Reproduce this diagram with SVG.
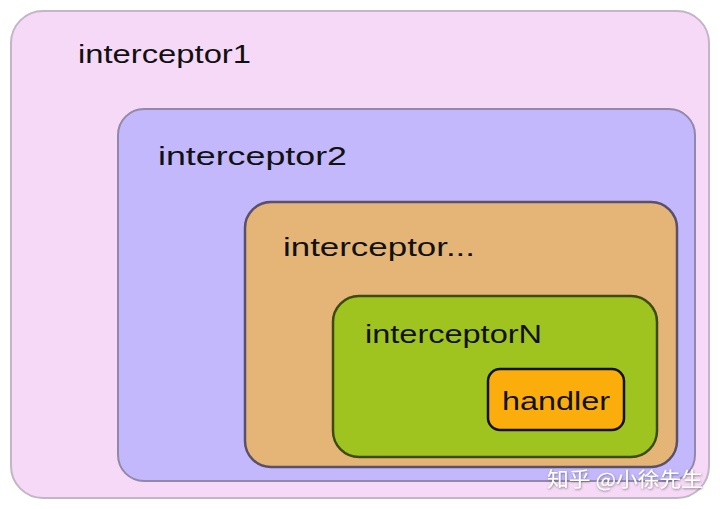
<svg xmlns="http://www.w3.org/2000/svg" width="720" height="509" viewBox="0 0 720 509">
<style>
.lbl{font-family:"Liberation Sans","DejaVu Sans",sans-serif;font-size:26px;fill:#111;}
.wm{font-family:"Noto Sans CJK SC","Noto Sans",sans-serif;font-size:20px;fill:#ffffff;}
</style>
<defs>
<filter id="sh" x="-10%" y="-30%" width="120%" height="160%">
<feDropShadow dx="0.5" dy="1" stdDeviation="0.8" flood-color="#555" flood-opacity="0.7"/>
</filter>
</defs>
<rect width="720" height="509" fill="#ffffff"/>
<g id="interceptor1">
<rect x="11" y="11" width="698" height="487" rx="32" fill="#f6d9f6" stroke="#c4b4c8" stroke-width="2"/>
<text class="lbl" x="78" y="63" textLength="173" lengthAdjust="spacingAndGlyphs">interceptor1</text>
</g>
<g id="interceptor2">
<rect x="118" y="109" width="577" height="372" rx="26" fill="#c2b8fb" stroke="#9289aa" stroke-width="2"/>
<text class="lbl" x="158" y="165" textLength="189" lengthAdjust="spacingAndGlyphs">interceptor2</text>
</g>
<g id="interceptor3">
<rect x="245" y="202" width="432" height="265" rx="26" fill="#e5b577" stroke="#5a5068" stroke-width="2.5"/>
<text class="lbl" x="283" y="256" textLength="192" lengthAdjust="spacingAndGlyphs">interceptor...</text>
</g>
<g id="interceptorN">
<rect x="333" y="296" width="324" height="161" rx="26" fill="#a0c41f" stroke="#3d4a12" stroke-width="2.5"/>
<text class="lbl" x="365" y="343" textLength="177" lengthAdjust="spacingAndGlyphs">interceptorN</text>
</g>
<g id="handler">
<rect x="488" y="369" width="136" height="61" rx="12" fill="#fbad0c" stroke="#111" stroke-width="2.5"/>
<text class="lbl" x="502" y="410" textLength="108" lengthAdjust="spacingAndGlyphs">handler</text>
</g>
<g id="connectors"></g>
<text class="wm" x="547" y="487" filter="url(#sh)" textLength="156" lengthAdjust="spacingAndGlyphs">知乎 @小徐先生</text>
</svg>
